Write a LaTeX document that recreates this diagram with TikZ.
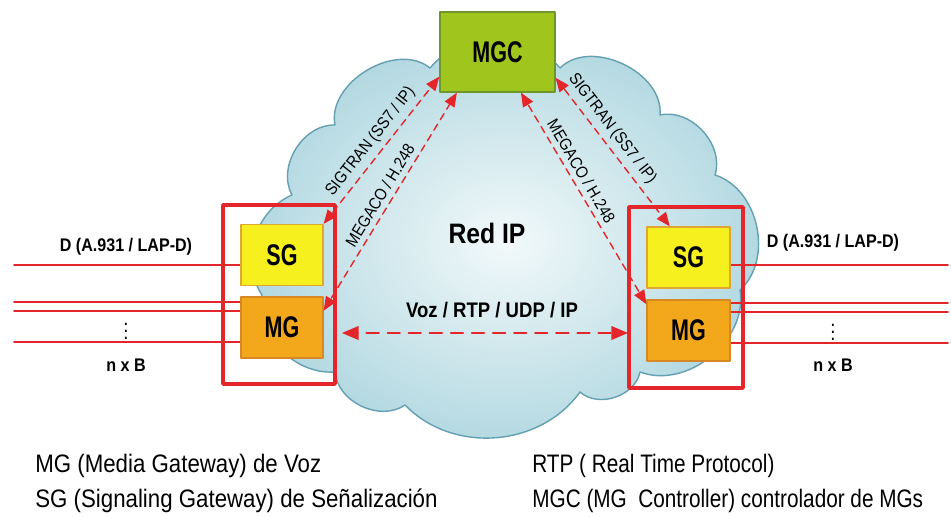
\documentclass[tikz,border=0pt]{standalone}
\usepackage{fontspec}
\setmainfont{Liberation Sans}[FakeStretch=0.88]
\newfontfamily\narrowsf{Liberation Sans}[FakeStretch=0.72]
\newfontfamily\legendsf{Liberation Sans}[FakeStretch=0.82]
\usepackage{tikz}
\usetikzlibrary{arrows}

\definecolor{redline}{RGB}{228,38,42}
\definecolor{mgcgreen}{RGB}{160,198,30}
\definecolor{mgcedge}{RGB}{110,150,40}
\definecolor{sgyellow}{RGB}{246,240,30}
\definecolor{sgedge}{RGB}{225,165,50}
\definecolor{mgorange}{RGB}{243,168,28}
\definecolor{mgedge}{RGB}{215,135,35}
\definecolor{cloudin}{RGB}{242,249,250}
\definecolor{cloudout}{RGB}{176,215,224}
\definecolor{cloudedge}{RGB}{100,160,178}

\tikzset{
  gwbox/.style={draw, line width=0.8pt, minimum width=1.64cm, minimum height=1.22cm,
    font=\narrowsf\bfseries\fontsize{17}{17}\selectfont},
  gwframe/.style={draw=redline, line width=2pt},
  trunk/.style={draw=redline, line width=0.9pt},
  sig/.style={draw=redline, line width=0.8pt, dash pattern=on 4pt off 3pt, <->},
  rtp/.style={draw=redline, line width=1.2pt, dash pattern=on 7pt off 5pt, <->},
  siglabel/.style={font=\fontsize{9.5}{9.5}\selectfont, sloped, above=2pt, inner sep=1pt},
  trunklabel/.style={font=\bfseries\fontsize{10.4}{10.4}\selectfont},
  legend/.style={anchor=base west, inner sep=0pt, font=\fontsize{14.4}{14.4}\selectfont}
}

\begin{document}
\begin{tikzpicture}[line cap=round,line join=round,>=triangle 45,x=0.02cm,y=-0.02cm]
\useasboundingbox (0,0) rectangle (951,517);
% nube de la red IP
\shade[draw=cloudedge, line width=0.8pt, inner color=cloudin, outer color=cloudout]
  (262,295) to[bend left=50] (292,195) to[bend left=60] (335,125)
  to[bend left=70] (430,68) to[bend left=50] (560,68) to[bend left=70] (660,115)
  to[bend left=60] (715,175) to[bend left=60] (740,290) to[bend left=60] (640,372)
  to[bend left=60] (580,392) to[bend left=50] (405,405) to[bend left=60] (335,372)
  to[bend left=50] cycle;
% marcos de los gateways
\node[gwframe, minimum width=2.24cm, minimum height=3.58cm] (lframe) at (279,294.5) {};
\node[gwframe, minimum width=2.28cm, minimum height=3.62cm] (rframe) at (686,297.5) {};
% lineas de acceso
\coordinate (lsgin) at (14,265);
\draw[trunk] (lsgin) -- (lsgin -| lframe.center);
\foreach \yy/\nm in {302/a,311/b,342/c}{
  \coordinate (lb\nm) at (14,\yy);
  \draw[trunk] (lb\nm) -- (lb\nm -| lframe.center);
}
\coordinate (rsgout) at (948,265);
\draw[trunk] (rframe.center |- rsgout) -- (rsgout);
\foreach \yy/\nm in {303/a,312/b,343/c}{
  \coordinate (rb\nm) at (948,\yy);
  \draw[trunk] (rframe.center |- rb\nm) -- (rb\nm);
}
% gateways y controlador
\node[gwbox, fill=mgcgreen, draw=mgcedge, minimum width=2.3cm, minimum height=1.6cm] (mgc) at (497.5,52) {MGC};
\node[gwbox, fill=sgyellow, draw=sgedge] (lsg) at (282,255) {SG};
\node[gwbox, fill=mgorange, draw=mgedge] (lmg) at (282,327.5) {MG};
\node[gwbox, fill=sgyellow, draw=sgedge, minimum width=1.66cm] (rsg) at (688.5,257.5) {SG};
\node[gwbox, fill=mgorange, draw=mgedge, minimum width=1.66cm] (rmg) at (688.5,330.5) {MG};
% textos
\node[font=\bfseries\fontsize{16}{16}\selectfont] (redip) at (487,233) {Red IP};
\node[font=\bfseries\fontsize{12}{12}\selectfont] (voz) at (492,310) {Voz / RTP / UDP / IP};
\node[trunklabel] (ld) at (126,247) {D (A.931 / LAP-D)};
\node[trunklabel] (lnb) at (126,365) {n x B};
\node[inner sep=0pt, font=\fontsize{12}{12}\selectfont] (ldots) at (126,326) {$\vdots$};
\node[trunklabel] (rd) at (833,243) {D (A.931 / LAP-D)};
\node[trunklabel] (rnb) at (833,365) {n x B};
\node[inner sep=0pt, font=\fontsize{12}{12}\selectfont] (rdots) at (833,327) {$\vdots$};
% senalizacion y media
\draw[sig] (lsg.north east) -- node[siglabel] {SIGTRAN (SS7 / IP)} (mgc.203);
\draw[sig] (lmg.22) -- node[siglabel] {MEGACO / H.248} (mgc.225);
\draw[sig] (mgc.-60) -- node[siglabel, pos=0.4] {MEGACO / H.248} (rmg.148);
\draw[sig] (mgc.-24) -- node[siglabel, pos=0.4] {SIGTRAN (SS7 / IP)} (rsg.121);
\coordinate (vozl) at (342,333);
\coordinate (vozr) at (628,333);
\draw[rtp] (vozl) -- (vozr);
% leyenda
\node[legend] (mgtxt) at (35,472) {MG (Media Gateway) de Voz};
\node[legend] (sgtxt) at (35,507) {SG (Signaling Gateway) de Señalización};
\node[legend, font=\legendsf\fontsize{14.4}{14.4}\selectfont] (rtptxt) at (532,472) {RTP ( Real Time Protocol)};
\node[legend, font=\legendsf\fontsize{14.4}{14.4}\selectfont] (mgctxt) at (532,507) {MGC (MG~ Controller) controlador de MGs};
\end{tikzpicture}
\end{document}
